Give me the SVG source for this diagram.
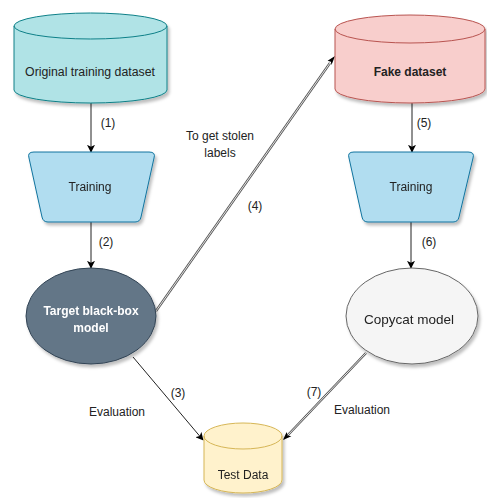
<svg xmlns="http://www.w3.org/2000/svg" width="487" height="498" viewBox="0 0 487 498">
<defs>
<filter id="sh" x="-10%" y="-10%" width="130%" height="130%"><feDropShadow dx="2" dy="3" stdDeviation="1.5" flood-color="#000" flood-opacity="0.25"/></filter>
<marker id="ah" viewBox="0 0 10 10" refX="9" refY="5" markerWidth="8" markerHeight="8" orient="auto" markerUnits="userSpaceOnUse"><path d="M0,0 L10,5 L0,10 L2.5,5 Z" fill="#000"/></marker>
</defs>
<style>
text{font-family:"Liberation Sans",Arial,sans-serif;font-size:12px;fill:#222;text-anchor:middle;dominant-baseline:central}
.b{font-weight:bold}
.w{fill:#fff}
.ln{fill:none;stroke:#222;stroke-width:1;marker-end:url(#ah)}
.dl{fill:none;stroke:#555;stroke-width:2.4}
.dl2{fill:none;stroke:#f4f4f4;stroke-width:0.9}
</style>
<g id="connectors">
<line class="ln" x1="91" y1="103" x2="91" y2="152"/>
<text x="108" y="123">(1)</text>
<line class="ln" x1="91" y1="222" x2="91" y2="268"/>
<text x="106" y="242">(2)</text>
<line class="ln" x1="412" y1="103" x2="412" y2="152"/>
<text x="424" y="123">(5)</text>
<line class="ln" x1="411" y1="222" x2="411" y2="268"/>
<text x="429" y="242">(6)</text>
<line class="dl" x1="156" y1="311" x2="330" y2="63"/>
<line class="dl2" x1="156" y1="311" x2="330" y2="63"/>
<path d="M335,56 L327.6,60.8 L330.9,61.7 L331.5,65.1 Z" fill="#000"/>
<text x="255" y="206">(4)</text>
<text x="220" y="136">To get stolen</text>
<text x="220" y="153">labels</text>
<line class="ln" x1="133" y1="357" x2="203" y2="440"/>
<text x="178" y="393">(3)</text>
<text x="117" y="412">Evaluation</text>
<line class="dl" x1="366" y1="353" x2="287" y2="436"/>
<line class="dl2" x1="366" y1="353" x2="287" y2="436"/>
<path d="M283,440 L286.6,432 L287.6,435.6 L291.4,436.3 Z" fill="#000"/>
<text x="314" y="392">(7)</text>
<text x="362" y="410">Evaluation</text>
</g>
<g id="original-dataset" filter="url(#sh)">
<path d="M14,26 A76.5,13 0 0 1 167,26 V90 A76.5,13 0 0 1 14,90 Z" fill="#b0e3e6" stroke="#0e8088"/>
<path d="M14,26 A76.5,13 0 0 0 167,26" fill="none" stroke="#0e8088"/>
</g>
<text x="90" y="72" style="font-size:12.3px">Original training dataset</text>
<g id="fake-dataset" filter="url(#sh)">
<path d="M335,29 A75,14 0 0 1 485,29 V89 A75,14 0 0 1 335,89 Z" fill="#f8cecc" stroke="#b85450"/>
<path d="M335,29 A75,14 0 0 0 485,29" fill="none" stroke="#b85450"/>
</g>
<text class="b" x="410" y="72">Fake dataset</text>
<g id="training-left" filter="url(#sh)">
<path d="M34,152 H149 Q156,152 154,158 L141,217 Q140,222 135,222 H48 Q43,222 42,217 L29,158 Q27,152 34,152 Z" fill="#b1ddf0" stroke="#10739e"/>
<text x="90" y="187">Training</text>
</g>
<g id="training-right" filter="url(#sh)">
<path d="M354,152 H468 Q475,152 473,158 L459,217 Q458,222 453,222 H368 Q363,222 362,217 L349,158 Q347,152 354,152 Z" fill="#b1ddf0" stroke="#10739e"/>
<text x="411" y="187">Training</text>
</g>
<g id="target-model" filter="url(#sh)">
<ellipse cx="91" cy="316" rx="65" ry="48" fill="#647687" stroke="#314354"/>
<text class="b w" x="91" y="311">Target black-box</text>
<text class="b w" x="91" y="328">model</text>
</g>
<g id="copycat-model" filter="url(#sh)">
<ellipse cx="412" cy="316" rx="66" ry="48" fill="#f5f5f5" stroke="#666"/>
<text x="409" y="319" style="font-size:13.5px">Copycat model</text>
</g>
<g id="test-data" filter="url(#sh)">
<path d="M204,436 A39,13 0 0 1 282,436 V480 A39,13 0 0 1 204,480 Z" fill="#fff2cc" stroke="#d6b656"/>
<path d="M204,436 A39,13 0 0 0 282,436" fill="none" stroke="#d6b656"/>
<text x="243" y="475">Test Data</text>
</g>
</svg>
